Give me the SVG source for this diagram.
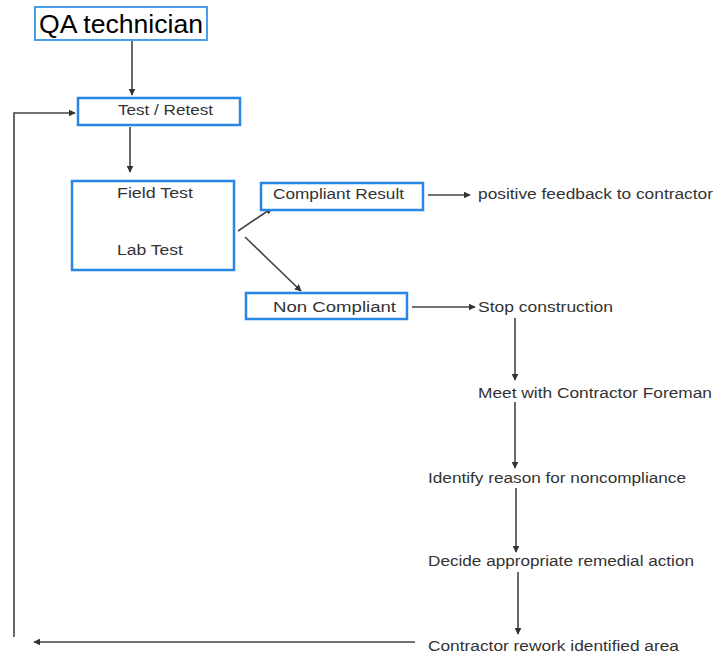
<svg xmlns="http://www.w3.org/2000/svg" width="716" height="655" viewBox="0 0 716 655">
<defs>
<marker id="ah" viewBox="0 0 10 10" refX="9" refY="5" markerWidth="7" markerHeight="7" markerUnits="userSpaceOnUse" orient="auto">
<path d="M0,0 L10,5 L0,10 z" fill="#333"/>
</marker>
</defs>
<style>
.box{fill:#fff;stroke:#2a86e4;stroke-width:2.5}
.qa{fill:#fff;stroke:#4a9de8;stroke-width:2}
.t{font-family:"Liberation Sans",Arial,sans-serif;font-size:14px;fill:#333}
.big{font-family:"Liberation Sans",Arial,sans-serif;font-size:25px;fill:#000}
.c{fill:none;stroke:#444;stroke-width:1.6;marker-end:url(#ah)}
</style>
<rect width="716" height="655" fill="#fff"/>
<g id="connectors">
<line class="c" x1="132" y1="41" x2="132" y2="95"/>
<line class="c" x1="130" y1="127" x2="130" y2="172"/>
<line class="c" x1="238" y1="231" x2="272" y2="208"/>
<line class="c" x1="245" y1="237" x2="301" y2="291"/>
<line class="c" x1="428" y1="195" x2="470" y2="195"/>
<line class="c" x1="412" y1="307" x2="475" y2="307"/>
<line class="c" x1="515" y1="318" x2="515" y2="380"/>
<line class="c" x1="515" y1="402" x2="515" y2="468"/>
<line class="c" x1="516" y1="488" x2="516" y2="552"/>
<line class="c" x1="518" y1="572" x2="518" y2="634"/>
<line class="c" x1="415" y1="642" x2="34" y2="642"/>
<polyline class="c" points="14,637 14,113 75,113"/>
</g>
<g id="qa">
<rect class="qa" x="35" y="7" width="172" height="33"/>
<text class="big" x="39" y="33" textLength="164" lengthAdjust="spacingAndGlyphs">QA technician</text>
</g>
<g id="test">
<rect class="box" x="78" y="98" width="162" height="27"/>
<text class="t" x="118" y="115" textLength="95" lengthAdjust="spacingAndGlyphs">Test / Retest</text>
</g>
<g id="fieldlab">
<rect class="box" x="72" y="181" width="162" height="89"/>
<text class="t" x="117" y="198" textLength="76" lengthAdjust="spacingAndGlyphs">Field Test</text>
<text class="t" x="117" y="255" textLength="66" lengthAdjust="spacingAndGlyphs">Lab Test</text>
</g>
<g id="compliant">
<rect class="box" x="261" y="183" width="162" height="27"/>
<text class="t" x="273" y="199" textLength="131" lengthAdjust="spacingAndGlyphs">Compliant Result</text>
</g>
<g id="noncompliant">
<rect class="box" x="246" y="293" width="161" height="26"/>
<text class="t" x="273" y="312" textLength="123" lengthAdjust="spacingAndGlyphs">Non Compliant</text>
</g>
<g id="positive">
<text class="t" x="478" y="199" textLength="235" lengthAdjust="spacingAndGlyphs">positive feedback to contractor</text>
</g>
<g id="stop">
<text class="t" x="478" y="312" textLength="135" lengthAdjust="spacingAndGlyphs">Stop construction</text>
</g>
<g id="meet">
<text class="t" x="478" y="398" textLength="234" lengthAdjust="spacingAndGlyphs">Meet with Contractor Foreman</text>
</g>
<g id="identify">
<text class="t" x="428" y="483" textLength="258" lengthAdjust="spacingAndGlyphs">Identify reason for noncompliance</text>
</g>
<g id="decide">
<text class="t" x="428" y="566" textLength="266" lengthAdjust="spacingAndGlyphs">Decide appropriate remedial action</text>
</g>
<g id="rework">
<text class="t" x="428" y="651" textLength="251" lengthAdjust="spacingAndGlyphs">Contractor rework identified area</text>
</g>
</svg>
